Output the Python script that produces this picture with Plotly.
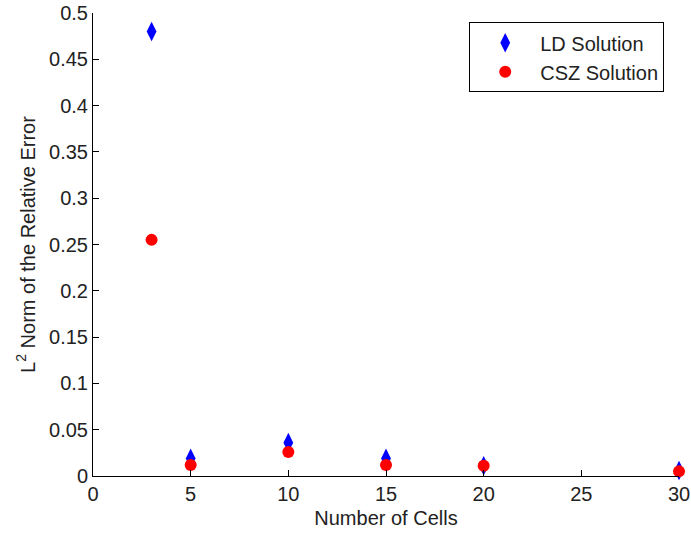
import plotly.graph_objects as go

cells = [3, 5, 10, 15, 20, 30]
ld_error = [0.48, 0.019, 0.036, 0.019, 0.011, 0.006]
csz_error = [0.255, 0.012, 0.026, 0.012, 0.011, 0.005]
x_ticks = [0, 5, 10, 15, 20, 25, 30]
y_ticks = [0, 0.05, 0.1, 0.15, 0.2, 0.25, 0.3, 0.35, 0.4, 0.45, 0.5]
y_tick_labels = ["0", "0.05", "0.1", "0.15", "0.2", "0.25", "0.3", "0.35", "0.4", "0.45", "0.5"]

fig = go.Figure()
fig.add_trace(go.Scatter(x=cells, y=ld_error, mode="markers", name="LD Solution",
                         marker=dict(symbol="diamond-tall", size=14, color="#0000ff"),
                         cliponaxis=False))
fig.add_trace(go.Scatter(x=cells, y=csz_error, mode="markers", name="CSZ Solution",
                         marker=dict(symbol="circle", size=12, color="#ff0000"),
                         cliponaxis=False))

fam = "Liberation Sans, Arial, sans-serif"
tick_font = dict(family=fam, size=20, color="#222")
title_font = dict(family=fam, size=20, color="#222")
fig.update_layout(
    width=691, height=536, autosize=False,
    margin=dict(l=93, r=12, t=13, b=60, autoexpand=False),
    plot_bgcolor="white", paper_bgcolor="white",
    font=dict(family=fam, size=20, color="#222"),
    showlegend=True,
    legend=dict(x=0.642, y=0.98, xanchor="left", yanchor="top",
                bordercolor="black", borderwidth=1, bgcolor="white",
                font=dict(family=fam, size=20, color="#222"),
                tracegroupgap=0, itemwidth=60),
)
fig.update_xaxes(range=[0, 30], tickvals=x_ticks, ticks="inside", ticklen=6,
                 tickcolor="black", showline=True, linecolor="black", linewidth=1,
                 showgrid=False, zeroline=False, mirror=False, automargin=False,
                 title=dict(text="Number of Cells", standoff=6, font=title_font),
                 tickfont=tick_font)
fig.update_yaxes(range=[0, 0.5], tickvals=y_ticks, ticktext=y_tick_labels,
                 ticks="inside", ticklen=6,
                 tickcolor="black", showline=True, linecolor="black", linewidth=1,
                 showgrid=False, zeroline=False, mirror=False, automargin=False,
                 title=dict(text="L<sup>2</sup> Norm of the Relative Error", standoff=8, font=title_font),
                 tickfont=tick_font)

fig.write_html("out.html", config={"displayModeBar": False},
               post_script="document.body.style.margin='0';document.body.style.overflow='hidden';")
